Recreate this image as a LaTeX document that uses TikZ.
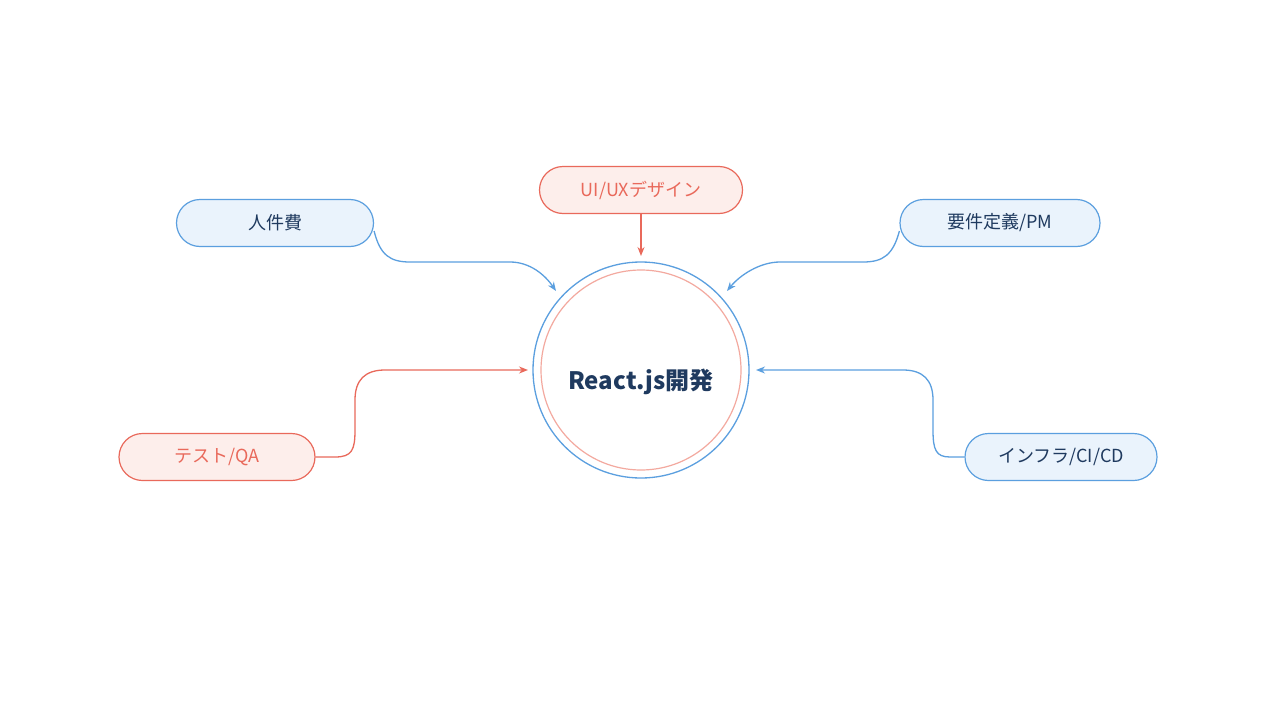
\documentclass[tikz,border=0pt]{standalone}
\usepackage{fontspec}
\setmainfont{Noto Sans CJK JP}
\usetikzlibrary{arrows.meta}
\definecolor{bl}{HTML}{5B9FDF}
\definecolor{blf}{HTML}{EAF3FC}
\definecolor{rd}{HTML}{E9695B}
\definecolor{rdf}{HTML}{FDEEEB}
\definecolor{rdl}{HTML}{F3A99F}
\definecolor{navy}{HTML}{1F3A5F}
\begin{document}
\begin{tikzpicture}[x=1pt,y=-1pt,
  pill/.style={rounded corners=23.5pt,minimum height=47pt,line width=1.2pt,font=\fontsize{18}{20}\selectfont,inner sep=0pt},
  bp/.style={pill,draw=bl,fill=blf,text=navy},
  rp/.style={pill,draw=rd,fill=rdf,text=rd},
  ba/.style={draw=bl,line width=1.3pt,-{Stealth[length=9pt,width=7pt,open]}},
  ra/.style={draw=rd,line width=1.3pt,-{Stealth[length=9pt,width=7pt,open]}}]
\path[use as bounding box] (0,0) rectangle (1280,720);
\fill[white] (0,0) rectangle (1280,720);
\node[circle,draw=bl,line width=1.3pt,minimum size=216pt] (c) at (641,370) {};
\node[circle,draw=rdl,line width=1.2pt,minimum size=200pt] (ci) at (641,370) {};
\node[text=navy,font=\fontsize{24}{26}\selectfont\bfseries] (t) at (641,382) {React.js開発};
\node[bp,minimum width=197pt] (a) at (275,223) {人件費};
\node[rp,minimum width=203pt] (b) at (641,190) {UI/UXデザイン};
\node[bp,minimum width=200pt] (d) at (1000,223) {要件定義/PM};
\node[rp,minimum width=196pt] (e) at (217,457) {テスト/QA};
\node[bp,minimum width=192pt] (f) at (1061,457) {インフラ/CI/CD};
\coordinate (a1) at (556,291);
\coordinate (d1) at (727,291);
\coordinate (b1) at (641,256);
\coordinate (e1) at (528,370);
\coordinate (f1) at (756,370);
\draw[ba] (a.east) ++(0,8) coordinate (a0) (a0) .. controls (380,255) and (390,262) .. (410,262) -- (510,262) .. controls (530,262) and (545,275) .. (a1);
\draw[ba] (d.west) ++(0,8) coordinate (d0) (d0) .. controls (893,255) and (883,262) .. (863,262) -- (780,262) .. controls (760,262) and (740,275) .. (d1);
\draw[ra] (b) -- (b1);
\draw[ra] (e) -- (335,457) .. controls (352,457) and (355,450) .. (355,430) -- (355,400) .. controls (355,380) and (365,370) .. (385,370) -- (e1);
\draw[ba] (f) -- (950,457) .. controls (936,457) and (933,450) .. (933,430) -- (933,400) .. controls (933,380) and (923,370) .. (903,370) -- (f1);
\end{tikzpicture}
\end{document}
